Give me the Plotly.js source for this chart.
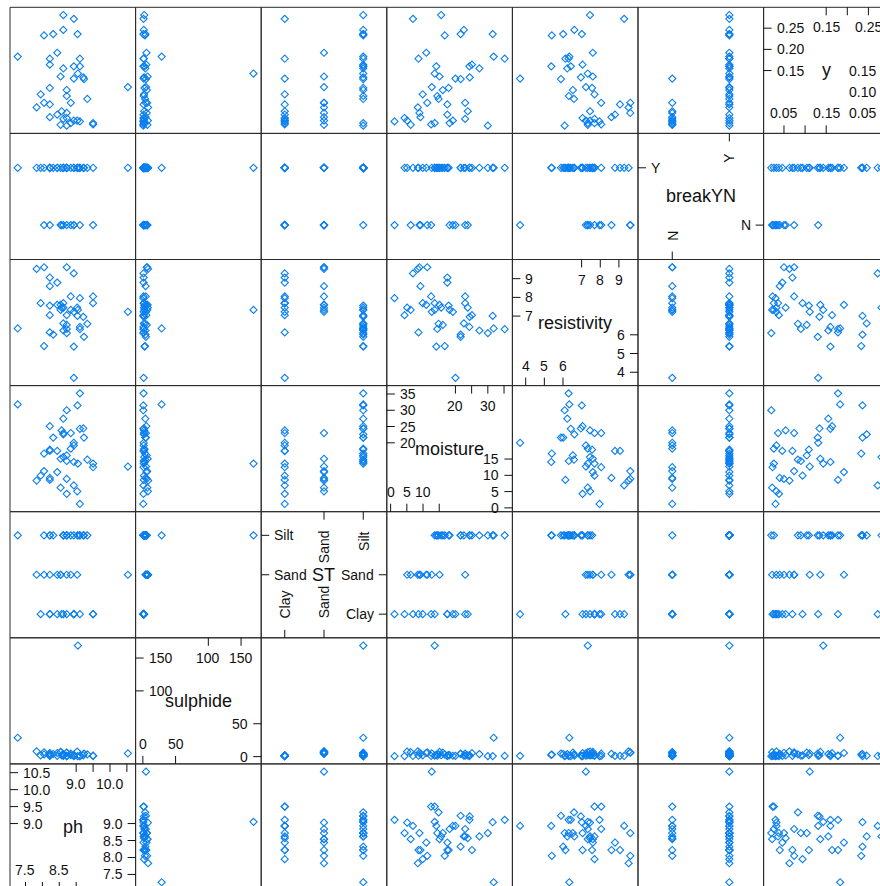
<!DOCTYPE html>
<html>
<head>
<meta charset="utf-8">
<script src="https://cdn.plot.ly/plotly-3.0.1.min.js"></script>
<style>
  html, body { margin: 0; padding: 0; overflow: hidden; background: #fff; }
  #plot { width: 900px; height: 900px; }
</style>
</head>
<body>
<div id="plot"></div>
<script>
// ---- observations (one entry per site) ----
const yVal = [0.281, 0.272, 0.246, 0.236, 0.236, 0.233, 0.192, 0.183, 0.178, 0.178,
              0.164, 0.160, 0.160, 0.155, 0.143, 0.136, 0.134, 0.131, 0.130, 0.111,
              0.109, 0.104, 0.094, 0.090, 0.083, 0.074, 0.074, 0.070, 0.063, 0.054,
              0.050, 0.046, 0.040, 0.038, 0.036, 0.032, 0.032, 0.030, 0.026, 0.026,
              0.023, 0.022, 0.020];
const ph = [8.62, 8.93, 8.62, 8.32, 9.04, 8.05, 8.44, 7.27, 8.22, 9.11,
            8.22, 8.93, 9.11, 8.62, 9.05, 8.54, 9.21, 8.93, 9.23, 10.53,
            8.22, 8.72, 7.95, 8.72, 9.33, 8.05, 8.84, 8.22, 7.83, 8.57,
            8.72, 8.44, 8.22, 8.72, 8.62, 8.93, 9.03, 9.11, 8.84, 9.50,
            9.50, 8.54, 8.72];
const sulphide = [2.1, 1.0, 1.5, 4.0, 0.8, 3.2, 5.5, 28.7, 1.4, 1.1,
                  5.3, 2.6, 0.9, 3.8, 169, 7.2, 1.8, 1.2, 4.6, 4.8,
                  2.4, 6.0, 1.8, 1.3, 3.5, 6.5, 4.4, 1.2, 8.0, 2.0,
                  5.9, 1.1, 4.2, 0.9, 1.6, 1.3, 7.6, 0.7, 2.2, 1.5,
                  1.0, 6.8, 0.7];
const soil = ['Silt', 'Clay', 'Silt', 'Silt', 'Silt', 'Silt', 'Sand', 'Silt', 'Clay', 'Silt',
              'Silt', 'Silt', 'Silt', 'Silt', 'Silt', 'Sand', 'Silt', 'Clay', 'Silt', 'Sand',
              'Silt', 'Silt', 'Clay', 'Silt', 'Silt', 'Sand', 'Sand', 'Clay', 'Sand', 'Clay',
              'Sand', 'Clay', 'Sand', 'Clay', 'Clay', 'Clay', 'Sand', 'Clay', 'Silt', 'Clay',
              'Clay', 'Sand', 'Silt'];
const moisture = [15.6, 6.9, 22.6, 21.6, 31.5, 16.7, 11.0, 31.8, 8.6, 35.2,
                  25.1, 14.1, 24.3, 27.4, 13.6, 15.1, 24.4, 20.0, 21.6, 12.7,
                  17.9, 16.1, 9.9, 14.4, 14.8, 11.3, 23.0, 17.5, 8.4, 23.8,
                  8.9, 17.5, 9.2, 4.3, 23.0, 19.2, 5.1, 1.2, 18.2, 13.6,
                  12.5, 6.2, 30.0];
const resistivity = [7.45, 9.28, 6.61, 6.01, 7.01, 5.40, 7.60, 6.34, 6.13, 6.30,
                     7.05, 5.37, 6.42, 6.23, 7.33, 7.60, 6.96, 3.70, 5.89, 7.23,
                     7.56, 6.53, 7.69, 6.31, 6.59, 9.61, 8.05, 9.06, 9.52, 7.45,
                     9.61, 8.79, 8.60, 7.05, 7.69, 7.23, 7.45, 7.96, 7.33, 7.69,
                     8.05, 7.33, 6.09];
const breakYN = ['Y', 'Y', 'Y', 'Y', 'Y', 'Y', 'Y', 'Y', 'Y', 'Y',
                 'Y', 'Y', 'Y', 'Y', 'Y', 'Y', 'Y', 'N', 'Y', 'Y',
                 'Y', 'Y', 'Y', 'Y', 'Y', 'N', 'Y', 'Y', 'Y', 'N',
                 'N', 'Y', 'N', 'Y', 'N', 'N', 'Y', 'N', 'N', 'Y',
                 'N', 'N', 'Y'];

// ---- factor levels and axis ticks ----
const soilLevels = ['Clay', 'Sand', 'Silt'];
const breakLevels = ['N', 'Y'];
const phTicks = [7.5, 8.0, 8.5, 9.0, 9.5, 10.0, 10.5];
const sulphideTicks = [0, 50, 100, 150];
const moistureTicks = [0, 5, 10, 15, 20, 25, 30, 35];
const resistivityTicks = [4, 5, 6, 7, 8, 9];
const yTicks = [0.05, 0.10, 0.15, 0.20, 0.25];

// ---- page geometry (pixels) ----
const W = 900, H = 900;
const LEFT = 10, TOP = 7.3, CW = 125.6, RH = 126.1;
const TICK = 8;
const FONT = 'Liberation Sans, Arial, Helvetica, sans-serif';
const TICK_FS = 14, NAME_FS = 18;
const INK = '#111';
const BLUE = '#0a7fef';

const vars = [
  { name: 'ph', values: ph, ticks: phTicks, dec: 1 },
  { name: 'sulphide', values: sulphide, ticks: sulphideTicks, dec: 0 },
  { name: 'ST', values: soil.map(s => soilLevels.indexOf(s) + 1), levels: soilLevels },
  { name: 'moisture', values: moisture, ticks: moistureTicks, dec: 0 },
  { name: 'resistivity', values: resistivity, ticks: resistivityTicks, dec: 0 },
  { name: 'breakYN', values: breakYN.map(s => breakLevels.indexOf(s) + 1), levels: breakLevels },
  { name: 'y', values: yVal, ticks: yTicks, dec: 2 }
];
const NV = vars.length;
const id = k => (k === 0 ? '' : String(k + 1));

// axis limits: data range padded by 7% (numeric) or 0.6 per side (factor)
vars.forEach(v => {
  if (v.levels) {
    v.range = [0.4, v.levels.length + 0.6];
  } else {
    const lo = Math.min(...v.values), hi = Math.max(...v.values);
    const pad = 0.07 * (hi - lo);
    v.range = [lo - pad, hi + pad];
  }
});

const layout = {
  width: W, height: H,
  margin: { l: 0, r: 0, t: 0, b: 0 },
  paper_bgcolor: '#fff', plot_bgcolor: '#fff',
  showlegend: false, hovermode: false,
  font: { family: FONT, size: TICK_FS, color: INK },
  shapes: [], annotations: []
};

vars.forEach((v, k) => {
  const x0 = LEFT + k * CW;
  const rowTop = TOP + (NV - 1 - k) * RH;
  const common = { showticklabels: false, ticks: '', showgrid: false, zeroline: false,
                   showline: false, fixedrange: true, autorange: false };
  layout['xaxis' + id(k)] = Object.assign({ domain: [x0 / W, (x0 + CW) / W], range: v.range.slice(),
                                            anchor: 'y' }, common);
  layout['yaxis' + id(k)] = Object.assign({ domain: [1 - (rowTop + RH) / H, 1 - rowTop / H], range: v.range.slice(),
                                            anchor: 'x' }, common);
});

// scatter panels: column variable on x, row variable on y
const traces = [];
for (let r = 0; r < NV; r++) {
  for (let c = 0; c < NV; c++) {
    if (r === c) continue;
    traces.push({
      type: 'scatter', mode: 'markers',
      x: vars[c].values, y: vars[r].values,
      xaxis: 'x' + id(c), yaxis: 'y' + id(r),
      marker: { symbol: 'diamond-open', size: 5.5, color: BLUE, line: { width: 1.1, color: BLUE } },
      cliponaxis: true, hoverinfo: 'skip'
    });
  }
}

// panel frames
for (let r = 0; r < NV; r++) {
  for (let c = 0; c < NV; c++) {
    layout.shapes.push({
      type: 'rect', xref: 'x' + id(c) + ' domain', yref: 'y' + id(r) + ' domain',
      x0: 0, x1: 1, y0: 0, y1: 1, line: { color: '#2a2a2a', width: 1 }, layer: 'above'
    });
  }
}

// approximate rendered width of a tick label
function textWidth(s, fs) {
  let w = 0;
  for (const ch of s) w += (ch === '.' ? 0.278 : 0.556);
  return w * fs;
}

// drop horizontal labels that would collide with the previous one kept
function thinLabels(items) {
  const kept = [];
  let last = null;
  items.forEach(it => {
    if (!last || Math.abs(it.px - last.px) >= (it.w + last.w) / 2 + 2) {
      kept.push(it);
      last = it;
    }
  });
  return kept;
}

// axis furniture drawn inside each diagonal panel
vars.forEach((v, k) => {
  const xr = 'x' + id(k), yr = 'y' + id(k);
  const tx = TICK / CW, ty = TICK / RH;
  const isFactor = !!v.levels;
  const vals = isFactor ? v.levels.map((_, i) => i + 1) : v.ticks;
  const texts = isFactor ? v.levels : v.ticks.map(t => t.toFixed(v.dec));
  const n = vals.length;
  const lowerIdx = [], upperIdx = [];
  for (let i = 0; i < Math.ceil(n / 2); i++) lowerIdx.push(i);
  for (let i = Math.floor(n / 2); i < n; i++) upperIdx.push(i);
  const span = v.range[1] - v.range[0];
  const pxOf = val => (val - v.range[0]) / span * CW;
  const tickFont = { family: FONT, size: TICK_FS, color: INK };

  // tick marks: lower half on bottom and right edges, upper half on top and left edges
  lowerIdx.forEach(i => {
    layout.shapes.push({ type: 'line', xref: xr, yref: yr + ' domain', x0: vals[i], x1: vals[i], y0: 0, y1: ty,
                         line: { color: INK, width: 1 } });
    layout.shapes.push({ type: 'line', xref: xr + ' domain', yref: yr, x0: 1, x1: 1 - tx, y0: vals[i], y1: vals[i],
                         line: { color: INK, width: 1 } });
  });
  upperIdx.forEach(i => {
    layout.shapes.push({ type: 'line', xref: xr, yref: yr + ' domain', x0: vals[i], x1: vals[i], y0: 1, y1: 1 - ty,
                         line: { color: INK, width: 1 } });
    layout.shapes.push({ type: 'line', xref: xr + ' domain', yref: yr, x0: 0, x1: tx, y0: vals[i], y1: vals[i],
                         line: { color: INK, width: 1 } });
  });

  // x labels
  const xItems = idxs => idxs.map(i => ({ i, px: pxOf(vals[i]), w: textWidth(texts[i], TICK_FS) }));
  const bottomX = isFactor ? xItems(lowerIdx) : thinLabels(xItems(lowerIdx));
  const topX = isFactor ? xItems(upperIdx) : thinLabels(xItems(upperIdx));
  const rotGap = isFactor ? 7 : 0;
  bottomX.forEach(it => layout.annotations.push({
    xref: xr, yref: yr + ' domain', x: vals[it.i], y: ty + (3 + rotGap) / RH,
    xanchor: 'center', yanchor: 'bottom', text: texts[it.i], showarrow: false,
    textangle: isFactor ? -90 : 0, borderpad: 0, font: tickFont
  }));
  topX.forEach(it => layout.annotations.push({
    xref: xr, yref: yr + ' domain', x: vals[it.i], y: 1 - ty - (3 + rotGap) / RH,
    xanchor: 'center', yanchor: 'top', text: texts[it.i], showarrow: false,
    textangle: isFactor ? -90 : 0, borderpad: 0, font: tickFont
  }));

  // y labels
  upperIdx.forEach(i => layout.annotations.push({
    xref: xr + ' domain', yref: yr, x: tx + 4 / CW, y: vals[i],
    xanchor: 'left', yanchor: 'middle', text: texts[i], showarrow: false, borderpad: 0, font: tickFont
  }));
  lowerIdx.forEach(i => layout.annotations.push({
    xref: xr + ' domain', yref: yr, x: 1 - tx - 4 / CW, y: vals[i],
    xanchor: 'right', yanchor: 'middle', text: texts[i], showarrow: false, borderpad: 0, font: tickFont
  }));

  // variable name in the middle of the panel
  layout.annotations.push({
    xref: xr + ' domain', yref: yr + ' domain', x: 0.5, y: 0.5,
    xanchor: 'center', yanchor: 'middle', text: v.name, showarrow: false, borderpad: 0,
    font: { family: FONT, size: NAME_FS, color: INK }
  });
});

Plotly.newPlot('plot', traces, layout, { staticPlot: true, displayModeBar: false });
</script>
</body>
</html>
